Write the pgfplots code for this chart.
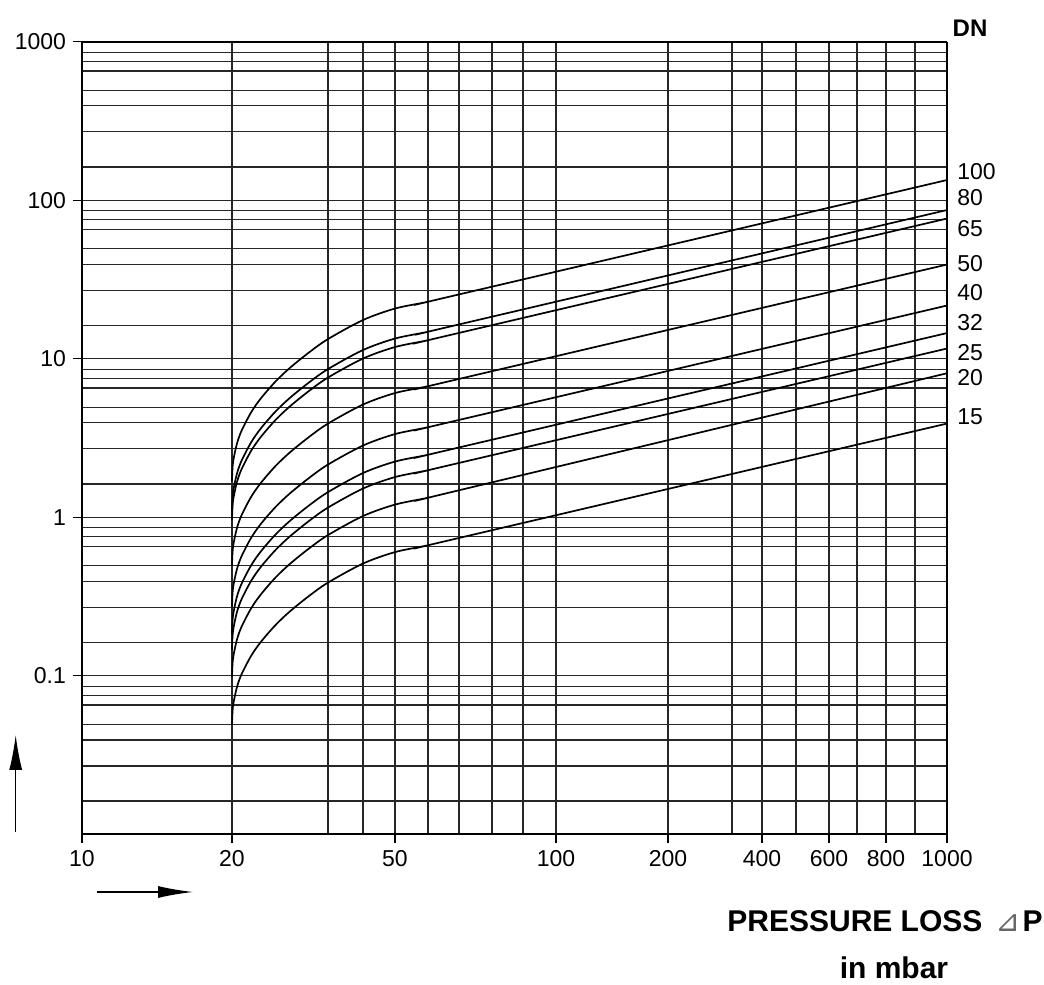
\documentclass[border=0pt]{standalone}
\usepackage{pgfplots}
\pgfplotsset{compat=1.18}
\usepackage{pgfplotstable}
\usepackage{fontspec}
\setmainfont{Liberation Sans}
\newfontfamily\symfont{DejaVu Sans}
\usetikzlibrary{arrows.meta}

% flow vs. pressure loss, one column per nominal size DN
\pgfplotstableread{
x     d100   d80    d65    d50    d40    d32    d25    d20    d15
20    1.692  1.094  0.967  0.4958 0.2733 0.1832 0.1463 0.0981 0.0492
20.1  2.204  1.425  1.260  0.6458 0.3559 0.2387 0.1906 0.1278 0.0641
20.5  2.892  1.870  1.653  0.8474 0.4671 0.3132 0.2501 0.1677 0.0841
21    3.519  2.276  2.012  1.031  0.5683 0.3811 0.3044 0.2041 0.1024
22    4.598  2.974  2.629  1.347  0.7426 0.4980 0.3977 0.2667 0.1338
23    5.616  3.632  3.211  1.645  0.9070 0.6082 0.4857 0.3257 0.1634
24.5  7.151  4.625  4.088  2.095  1.155  0.7745 0.6185 0.4148 0.2080
26    8.724  5.642  4.988  2.556  1.409  0.9448 0.7545 0.5060 0.2538
28    10.93  7.068  6.249  3.202  1.765  1.184  0.9453 0.6339 0.3180
30    13.31  8.608  7.609  3.900  2.150  1.441  1.151  0.7720 0.3872
40    17.55  11.35  10.03  5.142  2.834  1.901  1.518  1.018  0.5105
50    20.73  13.41  11.85  6.074  3.348  2.245  1.793  1.202  0.6030
60    22.89  14.80  13.09  6.707  3.697  2.479  1.980  1.328  0.6659
70    25.45  16.46  14.55  7.457  4.110  2.756  2.201  1.480  0.7403
1000  134.1  86.72  76.66  39.29  21.66  14.52  11.60  8.10   3.901
}\flowdata

\begin{document}
\begin{tikzpicture}
\useasboundingbox (-41pt,-75.35pt) rectangle (481pt,417.15pt);
\begin{axis}[
  at={(0pt,0pt)}, anchor=south west,
  scale only axis, width=432.5pt, height=396.3pt,
  % the printed x scale is not a true log scale: piecewise map mbar -> position
  x coord trafo/.code={\pgfmathparse{
    (#1<20) ? (15*(#1-10)) :
    ((#1<30) ? (150+9.6*(#1-20)) :
    ((#1<40) ? (246+3.5*(#1-30)) :
    ((#1<50) ? (281+3.2*(#1-40)) :
    ((#1<60) ? (313+3.3*(#1-50)) :
    ((#1<70) ? (346+3.1*(#1-60)) :
    ((#1<80) ? (377+3.3*(#1-70)) :
    ((#1<90) ? (410+3.1*(#1-80)) :
    ((#1<100) ? (441+3.3*(#1-90)) :
    ((#1<200) ? (474+1.12*(#1-100)) :
    ((#1<300) ? (586+0.64*(#1-200)) :
    ((#1<400) ? (650+0.30*(#1-300)) :
    ((#1<500) ? (680+0.34*(#1-400)) :
    ((#1<600) ? (714+0.33*(#1-500)) :
    ((#1<700) ? (747+0.28*(#1-600)) :
    ((#1<800) ? (775+0.29*(#1-700)) :
    ((#1<900) ? (804+0.29*(#1-800)) :
    (833+0.32*(#1-900))))))))))))))))))}},
  xmin=10, xmax=1000,
  ymode=log, ymin=0.01, ymax=1000,
  xtick={10,20,50,100,200,400,600,800,1000},
  xticklabels={10,20,50,100,200,400,600,800,1000},
  minor xtick={30,40,60,70,80,90,300,500,700,900},
  ytick={0.1,1,10,100,1000},
  yticklabels={0.1,1,10,100,1000},
  minor ytick={859,753,654,494,394,270,162,
    85.9,75.3,65.4,49.4,39.4,27.0,16.2,
    8.59,7.53,6.54,4.94,3.94,2.70,1.62,
    0.859,0.753,0.654,0.494,0.394,0.270,0.162,
    0.0859,0.0753,0.0654,0.0494,0.0394,0.0270,0.0162},
  grid=both,
  major grid style={line width=0.6pt, black!85},
  minor grid style={line width=0.6pt, black!85},
  tick align=outside, tick pos=left,
  major tick length=4.5pt, minor tick length=0pt,
  tick style={black, line width=0.7pt},
  separate axis lines,
  x axis line style={line width=0.9pt},
  y axis line style={line width=1.4pt},
  tick label style={font=\fontsize{11.5}{13}\selectfont},
  /pgf/number format/assume math mode=true,
  cycle list={black,solid,line width=0.85pt\\},
  every axis plot/.append style={no markers, smooth},
]
\addplot table[x=x, y=d100] {\flowdata};
\addplot table[x=x, y=d80]  {\flowdata};
\addplot table[x=x, y=d65]  {\flowdata};
\addplot table[x=x, y=d50]  {\flowdata};
\addplot table[x=x, y=d40]  {\flowdata};
\addplot table[x=x, y=d32]  {\flowdata};
\addplot table[x=x, y=d25]  {\flowdata};
\addplot table[x=x, y=d20]  {\flowdata};
\addplot table[x=x, y=d15]  {\flowdata};
\end{axis}

% DN labels at the right edge
\begin{scope}[every node/.style={anchor=west, inner sep=0pt, font=\fontsize{11.5}{13}\selectfont}]
\node at (437.5pt,331.3pt)  {100};
\node at (437.5pt,318.15pt) {80};
\node at (437.5pt,302.65pt) {65};
\node at (437.5pt,285.15pt) {50};
\node at (437.5pt,270.65pt) {40};
\node at (437.5pt,255.65pt) {32};
\node at (437.5pt,240.65pt) {25};
\node at (437.5pt,228.15pt) {20};
\node at (437.5pt,208.65pt) {15};
\end{scope}
\node[anchor=base, inner sep=0pt, font=\bfseries\fontsize{12}{14}\selectfont] at (444pt,398.8pt) {DN};

% axis title
\node[anchor=base east, inner sep=0pt, font=\bfseries\fontsize{15}{17}\selectfont]
  at (480.5pt,-48.7pt) {PRESSURE LOSS\hspace{0.45em}{\mdseries\symfont\textcolor{black!60}{⊿}}\hspace{0.05em}P};
\node[anchor=base, inner sep=0pt, font=\bfseries\fontsize{15}{17}\selectfont]
  at (406pt,-71.85pt) {in mbar};

% direction arrows
\draw[line width=0.7pt, -{Latex[length=17.5pt,width=6.5pt]}] (-33.15pt,1.3pt) -- (-33.15pt,49.65pt);
\draw[line width=0.7pt, -{Latex[length=17.5pt,width=6pt]}] (7.35pt,-28.85pt) -- (55.5pt,-28.85pt);
\end{tikzpicture}
\end{document}
